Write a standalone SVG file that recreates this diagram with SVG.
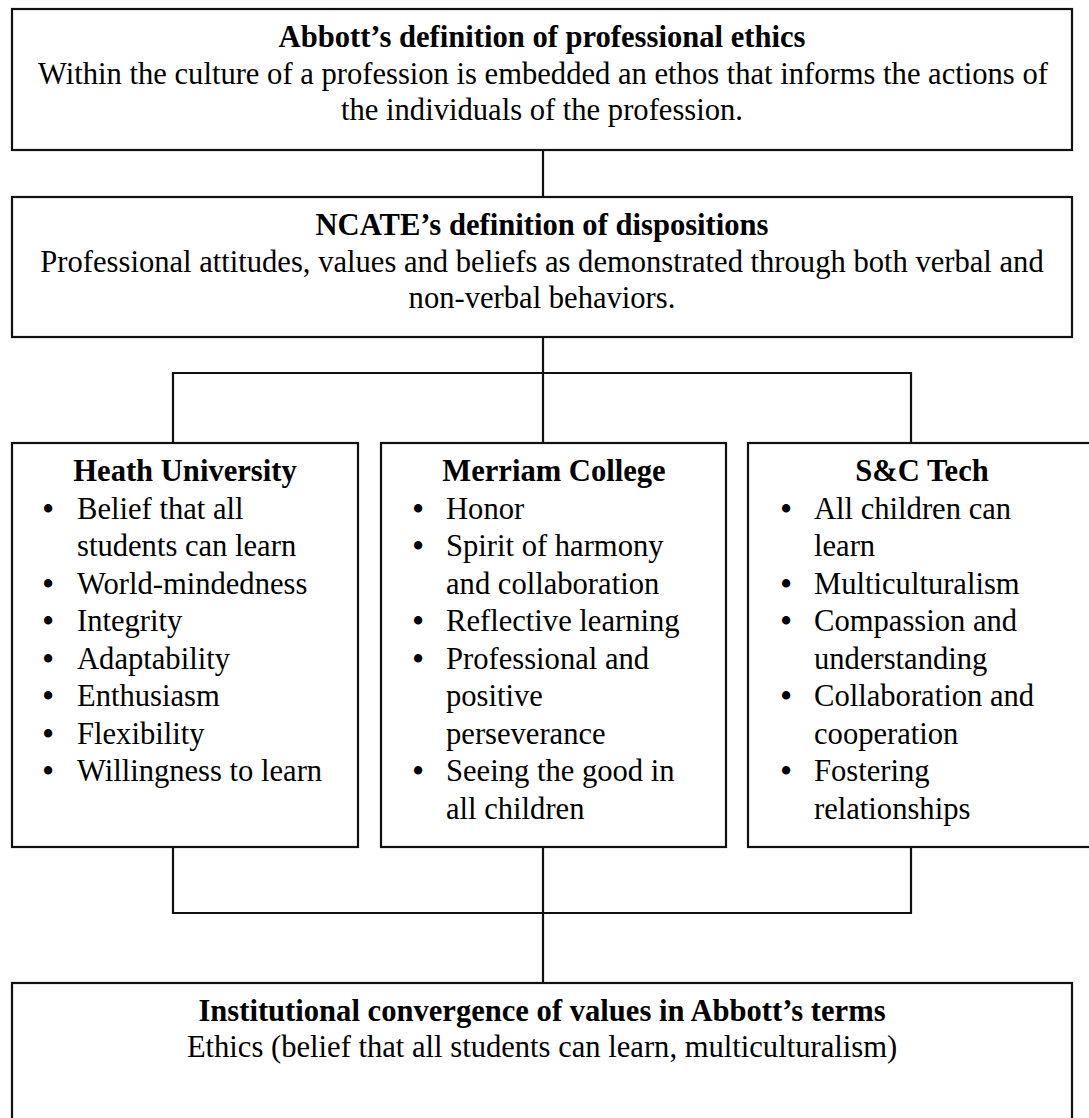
<svg xmlns="http://www.w3.org/2000/svg" width="1089" height="1118" viewBox="0 0 1089 1118">
<style>
  .box { fill: #ffffff; stroke: #111111; stroke-width: 2.2; }
  .conn { fill: none; stroke: #111111; stroke-width: 2.2; }
  text { font-family: "Liberation Serif", "Times New Roman", serif; font-size: 30.6px; fill: #000000; }
  .t { font-weight: bold; text-anchor: middle; }
  .c { text-anchor: middle; }
  .b { text-anchor: middle; font-weight: bold; }
</style>
<rect width="1089" height="1118" fill="#ffffff"/>
<g id="connectors">
  <path class="conn" d="M543 150 V197"/>
  <path class="conn" d="M543 337 V443"/>
  <path class="conn" d="M173 443 V373 H911 V443"/>
  <path class="conn" d="M173 847 V913 H911 V847"/>
  <path class="conn" d="M543 847 V983"/>
</g>
<g id="abbott">
  <rect class="box" x="12" y="9" width="1060" height="141"/>
  <text class="t" x="542" y="47">Abbott’s definition of professional ethics</text>
  <text class="c" x="543" y="83.5">Within the culture of a profession is embedded an ethos that informs the actions of</text>
  <text class="c" x="542" y="120">the individuals of the profession.</text>
</g>
<g id="ncate">
  <rect class="box" x="12" y="197" width="1060" height="140"/>
  <text class="t" x="542" y="235">NCATE’s definition of dispositions</text>
  <text class="c" x="542" y="271.5">Professional attitudes, values and beliefs as demonstrated through both verbal and</text>
  <text class="c" x="542" y="308">non-verbal behaviors.</text>
</g>
<g id="heath">
  <rect class="box" x="12" y="443" width="346" height="404"/>
  <text class="t" x="185" y="481">Heath University</text>
  <text class="b" x="48" y="518.5">•</text>
  <text x="77" y="518.5">Belief that all</text>
  <text x="77" y="556">students can learn</text>
  <text class="b" x="48" y="593.5">•</text>
  <text x="77" y="593.5">World-mindedness</text>
  <text class="b" x="48" y="631">•</text>
  <text x="77" y="631">Integrity</text>
  <text class="b" x="48" y="668.5">•</text>
  <text x="77" y="668.5">Adaptability</text>
  <text class="b" x="48" y="706">•</text>
  <text x="77" y="706">Enthusiasm</text>
  <text class="b" x="48" y="743.5">•</text>
  <text x="77" y="743.5">Flexibility</text>
  <text class="b" x="48" y="781">•</text>
  <text x="77" y="781">Willingness to learn</text>
</g>
<g id="merriam">
  <rect class="box" x="381" y="443" width="345" height="404"/>
  <text class="t" x="554" y="481">Merriam College</text>
  <text class="b" x="418" y="518.5">•</text>
  <text x="446" y="518.5">Honor</text>
  <text class="b" x="418" y="556">•</text>
  <text x="446" y="556">Spirit of harmony</text>
  <text x="446" y="593.5">and collaboration</text>
  <text class="b" x="418" y="631">•</text>
  <text x="446" y="631">Reflective learning</text>
  <text class="b" x="418" y="668.5">•</text>
  <text x="446" y="668.5">Professional and</text>
  <text x="446" y="706">positive</text>
  <text x="446" y="743.5">perseverance</text>
  <text class="b" x="418" y="781">•</text>
  <text x="446" y="781">Seeing the good in</text>
  <text x="446" y="818.5">all children</text>
</g>
<g id="sctech">
  <rect class="box" x="748" y="443" width="348" height="404"/>
  <text class="t" x="922" y="481">S&amp;C Tech</text>
  <text class="b" x="786" y="518.5">•</text>
  <text x="814" y="518.5">All children can</text>
  <text x="814" y="556">learn</text>
  <text class="b" x="786" y="593.5">•</text>
  <text x="814" y="593.5">Multiculturalism</text>
  <text class="b" x="786" y="631">•</text>
  <text x="814" y="631">Compassion and</text>
  <text x="814" y="668.5">understanding</text>
  <text class="b" x="786" y="706">•</text>
  <text x="814" y="706">Collaboration and</text>
  <text x="814" y="743.5">cooperation</text>
  <text class="b" x="786" y="781">•</text>
  <text x="814" y="781">Fostering</text>
  <text x="814" y="818.5">relationships</text>
</g>
<g id="convergence">
  <rect class="box" x="12" y="983" width="1060" height="160"/>
  <text class="t" x="542" y="1021">Institutional convergence of values in Abbott’s terms</text>
  <text class="c" x="542" y="1057">Ethics (belief that all students can learn, multiculturalism)</text>
</g>
</svg>
